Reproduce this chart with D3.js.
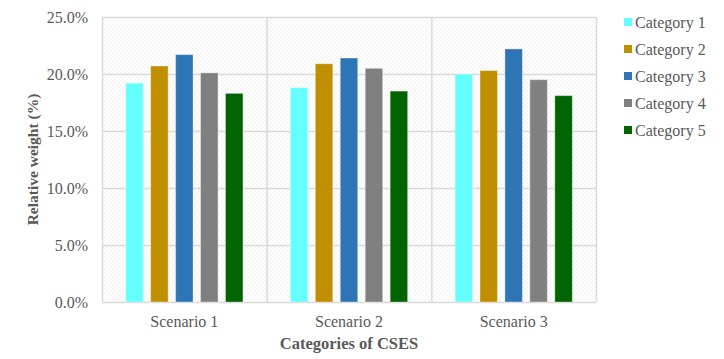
<!DOCTYPE html>
<html>
<head>
<meta charset="utf-8">
<script src="https://cdn.jsdelivr.net/npm/d3@7"></script>
<style>
  html, body { margin: 0; padding: 0; background: #fff; }
  svg { display: block; }
  svg text { font-family: "Liberation Serif", "DejaVu Serif", serif !important; fill: #595959; }
</style>
</head>
<body>
<svg id="chart" width="724" height="359"></svg>
<script>
const scenarios = ["Scenario 1", "Scenario 2", "Scenario 3"];
const seriesNames = ["Category 1", "Category 2", "Category 3", "Category 4", "Category 5"];
const seriesColors = ["#66FFFF", "#BF8F00", "#2E75B6", "#808080", "#006400"];
const cat1 = [0.192, 0.188, 0.200];
const cat2 = [0.207, 0.209, 0.203];
const cat3 = [0.217, 0.214, 0.222];
const cat4 = [0.201, 0.205, 0.195];
const cat5 = [0.183, 0.185, 0.181];
const seriesValues = [cat1, cat2, cat3, cat4, cat5];
const yTicks = [0, 0.05, 0.10, 0.15, 0.20, 0.25];

const FONT = "'Liberation Serif', 'DejaVu Serif', serif";
const svg = d3.select("#chart");
const m = { left: 102, right: 596, top: 17, bottom: 302 };

const defs = svg.append("defs");
const pat = defs.append("pattern")
  .attr("id", "hatch").attr("patternUnits", "userSpaceOnUse")
  .attr("width", 4).attr("height", 4);
pat.append("rect").attr("width", 4).attr("height", 4).attr("fill", "#fff");
pat.append("path").attr("d", "M-1,-1 L5,5 M-1,3 L1,5 M3,-1 L5,1")
  .attr("stroke", "#efefef").attr("stroke-width", 1);

const x0 = d3.scaleBand().domain(scenarios).range([m.left, m.right]).padding(0);
const x1 = d3.scaleBand().domain(seriesNames).range([0, x0.bandwidth()])
  .paddingInner(0.3).paddingOuter(0.95);
const y = d3.scaleLinear().domain([0, 0.25]).range([m.bottom, m.top]);

// background
svg.append("rect").attr("x", m.left).attr("y", m.top)
  .attr("width", m.right - m.left).attr("height", m.bottom - m.top)
  .attr("fill", "url(#hatch)");

// horizontal gridlines
svg.append("g").selectAll("line").data(yTicks).join("line")
  .attr("x1", m.left).attr("x2", m.right)
  .attr("y1", d => y(d) + 0.5).attr("y2", d => y(d) + 0.5)
  .attr("stroke", "#d9d9d9").attr("stroke-width", 1.5);

// vertical separators
const bounds = scenarios.map(s => x0(s)).concat([m.right]);
svg.append("g").selectAll("line").data(bounds).join("line")
  .attr("x1", d => d + 0.5).attr("x2", d => d + 0.5)
  .attr("y1", m.top).attr("y2", m.bottom)
  .attr("stroke", "#d9d9d9").attr("stroke-width", 1.5);

// bars
const barData = [];
scenarios.forEach((s, i) => seriesNames.forEach((n, j) => barData.push({ s, n, j, v: seriesValues[j][i] })));
svg.append("g").selectAll("rect").data(barData).join("rect")
  .attr("x", d => x0(d.s) + x1(d.n))
  .attr("y", d => y(d.v))
  .attr("width", x1.bandwidth())
  .attr("height", d => y(0) - y(d.v))
  .attr("fill", d => seriesColors[d.j])
  .attr("stroke", "rgba(255,255,255,0.35)").attr("stroke-width", 1);

// y axis
const yAxis = d3.axisLeft(y).tickValues(yTicks).tickFormat(d3.format(".1%")).tickSize(0).tickPadding(14);
const yg = svg.append("g").attr("transform", `translate(${m.left},0)`).call(yAxis)
  .attr("font-family", FONT).attr("font-size", 16);
yg.select(".domain").remove();
yg.selectAll("text").attr("fill", "#595959");

// x axis
const xAxis = d3.axisBottom(x0).tickSize(0).tickPadding(14);
const xg = svg.append("g").attr("transform", `translate(0,${m.bottom})`).call(xAxis)
  .attr("font-family", FONT).attr("font-size", 16);
xg.select(".domain").remove();
xg.selectAll("text").attr("fill", "#595959");

// axis titles
svg.append("text").attr("x", (m.left + m.right) / 2).attr("y", 349)
  .attr("text-anchor", "middle").attr("font-family", FONT).attr("font-size", 16.5).attr("font-weight", "bold")
  .text("Categories of CSES");
svg.append("text").attr("transform", `translate(38,${(m.top + m.bottom) / 2}) rotate(-90)`)
  .attr("text-anchor", "middle").attr("font-family", FONT).attr("font-size", 15.5).attr("font-weight", "bold")
  .text("Relative weight (%)");

// legend
const lg = svg.append("g").attr("transform", "translate(624,18)");
const items = lg.selectAll("g").data(seriesNames).join("g")
  .attr("transform", (d, i) => `translate(0,${i * 27})`);
items.append("rect").attr("x", 0).attr("y", 0).attr("width", 8).attr("height", 8)
  .attr("fill", (d, i) => seriesColors[i]);
items.append("text").attr("x", 11).attr("y", 4).attr("dy", "0.35em")
  .attr("font-family", FONT).attr("font-size", 16).text(d => d);
</script>
</body>
</html>
